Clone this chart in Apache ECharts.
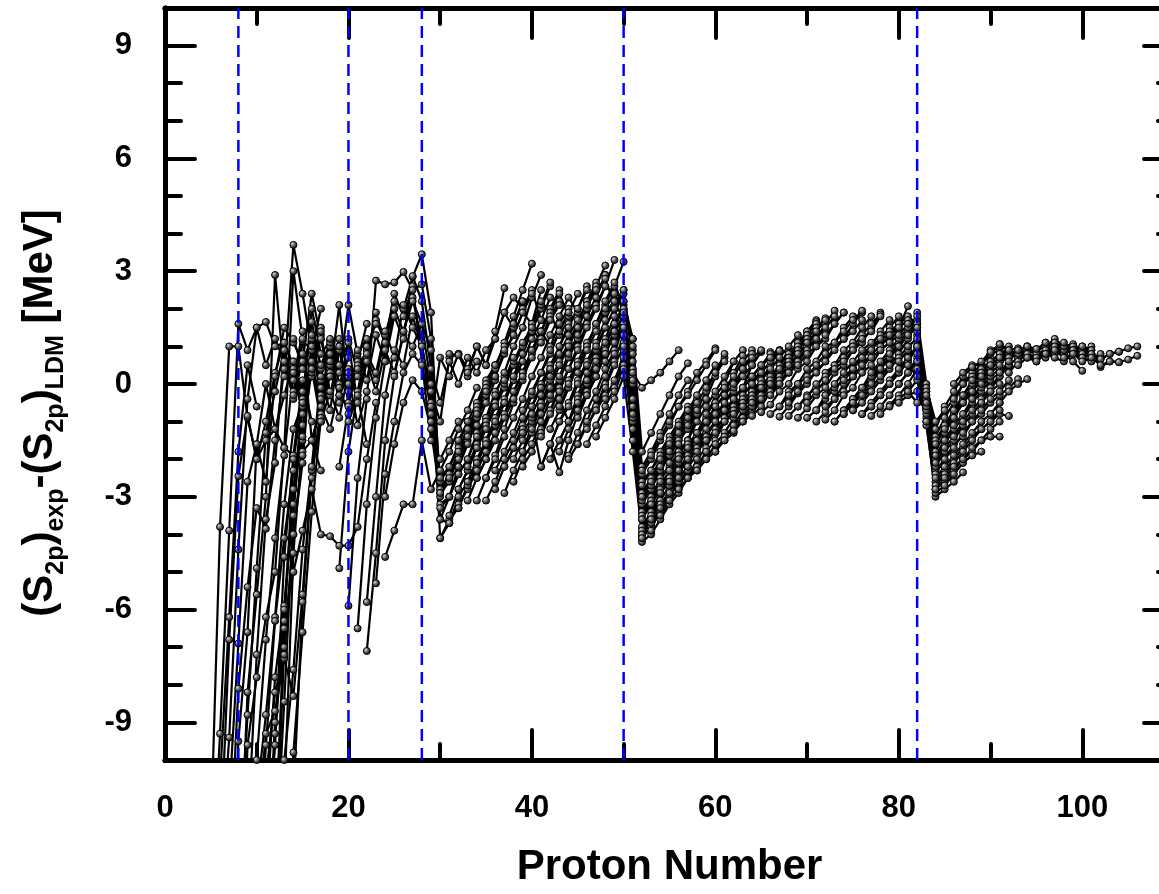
<!DOCTYPE html>
<html>
<head>
<meta charset="utf-8">
<title>S2p residuals vs proton number</title>
<script src="https://cdn.jsdelivr.net/npm/echarts@6/dist/echarts.min.js"></script>
<style>
  html, body { margin: 0; padding: 0; background: #fff; }
  #chart { width: 1159px; height: 894px; }
</style>
</head>
<body>
<div id="chart"></div>
<script>
// each chain: first entry is the proton number of its first point,
// then the residual (MeV) at Z, Z+1, Z+2, ...

// light nuclei, Z 5-25
const lightChains = [
  [5, -12.0, -3.8, 1.0, 1.0, -0.9, -2.0, -1.0, 0.3, 1.1, 0.5, -0.2],
  [5, -14.0, -9.3, -3.9, 1.6, 0.9, 1.5, 0.5, 1.2, 0.6, -0.4, 0.8],
  [6, -13.0, -9.4, -4.4, -0.4, 1.5, 1.65, 1.0, 1.1, 0.4, -0.5, 0.2],
  [6, -12.5, -6.8, -2.45, -0.85, -2.0, -1.5, -1.2, -1.7, -1.9, -1.8, -1.5, -2.3],
  [6, -10.5, -6.2, -1.8, 0.5, -0.6],
  [7, -15.0, -9.5, -6.6, -1.6, -2.6, 0.2, 1.5, 1.1, 0.6, 2.4, 1.2],
  [7, -13.0, -8.1, -5.4, -3.3, -3.85, -1.5, 0.4, -0.2, 1.15, 0.9, 2.0],
  [7, -11.0, -6.9, -2.6, -1.6, 0.0, -1.2, -0.3, 0.6],
  [8, -14.0, -8.2, -5.6, -3.0, 2.9, 0.2, 3.7, 2.4, 0.9, 1.3, -0.3],
  [8, -16.0, -9.6, -7.8, -6.2, -5.0, -1.7, 3.0, 1.2, -1.5, -0.6, 0.4],
  [8, -13.0, -8.8, -4.9, -1.3, -0.2, 0.9, 0.1, 1.4],
  [9, -16.0, -12.0, -9.3, -8.7, -7.3, -8.3, -5.6, -2.3, -1.0, 0.6],
  [9, -17.0, -11.0, -8.8, -6.2, -3.2, -1.2, -0.5, 0.5, -0.4, 1.0],
  [9, -14.5, -10.0, -6.8, -4.1, -1.9, 0.3, -0.8],
  [9, -12.0, -7.2, -3.6, -2.1, 0.9, -0.3, 0.6, 1.2],
  [10, -16.0, -10.5, -8.2, -7.2, -4.0, -1.9, 1.2, 0.1, -0.7, 0.9],
  [10, -14.0, -9.6, -6.3, -4.1, -2.3, -1.5, 0.6, -0.8, 0.3],
  [10, -18.0, -12.5, -9.6, -4.6, -1.9, 0.1, -1.0],
  [10, -15.0, -11.5, -7.8, -5.9, -2.8, -0.6, 0.9, -0.1],
  [11, -15.0, -9.3, -6.3, -5.0, -3.9, -2.8, -4.0, -4.05, -4.3, -4.3, -3.8, -2.0, -0.5],
  [11, -19.0, -13.0, -8.45, -3.5, -0.4, 1.65, 0.4, 1.0],
  [11, -13.5, -9.0, -6.0, -3.2, -1.1, 0.6, 1.5],
  [12, -13.0, -7.0, -4.0, -2.1, 1.0, -0.3, 0.5, 1.2, -0.5, 0.7],
  [12, -12.0, -6.5, -2.0, -0.5, 2.0, 0.8, 1.15, 0.3, 2.1, 0.8, 1.2],
  [12, -17.0, -10.0, -7.6, -4.4, -2.2, 0.2, 1.0, -0.4],
  [13, -11.0, -4.5, -1.4, 0.4, 1.4, -0.3, 0.9, 0.0, 0.6, 1.6],
  [13, -16.0, -11.0, -5.8, -2.5, -0.6, 0.8, -0.5, 1.2, 0.3],
  [13, -14.0, -9.8, -6.6, -3.4, -0.9, 0.5, -0.3, 0.4],
  [14, 0.6, -0.5, 0.3, -0.4, 0.2, 2.1, -0.2, 0.5, 0.8],
  [14, 1.2, 0.4, 1.3, 0.5, 1.1, 0.0, 0.7],
  [15, -0.8, 0.4, -1.0, 0.6, -0.3, 0.2, -1.1, -0.2],
  [16, -1.5, -0.6, -1.2, -0.1, -0.8, -0.3, -1.6],
  [16, 0.4, 1.2, 0.2, 1.0, -0.5, 0.4, 0.9, 1.7, 1.1, 2.0],
  [17, -1.0, -0.2, -0.9, 0.3, -0.4, 0.7, 0.1, 1.3]
];

// chains running over Z = 28
const magic28Chains = [
  [18, 1.2, 0.5, 1.1, -0.5, 0.6, 1.9, 1.1, 2.4, 1.8, 2.6, 0.6, -1.5, -2.0, -1.5, -1.0],
  [19, -4.9, -1.8, -0.2, 1.0, 1.6, 1.3, 2.2, 2.0, 2.85, 3.45, 1.9, -3.2, -3.0, -2.4, -2.0, -1.3, -0.9, -0.2, 0.2],
  [19, -2.2, -0.6, 0.9, 0.1, 1.3, 0.6, 2.0, 1.4, 2.3, 1.1, -0.8, -2.8, -2.4, -1.9, -1.4, -0.9, -0.4],
  [20, -5.9, -2.5, -0.4, 2.75, 2.65, 2.7, 2.98, 2.5, 2.65, 1.2, -3.6, -3.7, -3.0, -2.6, -2.0, -1.5, -1.1, -0.5],
  [20, -1.0, -0.3, 0.6, -0.2, 0.9, 0.3, 1.3, 1.0, 1.6, 0.9, -2.6, -2.2, -1.6, -1.0, -0.5, 0.1, 0.5],
  [21, -6.5, -3.2, -0.9, 0.6, 1.8, 1.2, 2.87, 2.2, 0.4, -4.1, -3.6, -3.3, -2.7, -2.2, -1.8, -1.3],
  [21, 0.2, 0.8, 0.3, 1.4, 0.7, 2.1, 1.5, 1.0, -0.2, -1.0, 0.7, 0.8, 0.2, 0.6],
  [22, -7.1, -4.5, -1.5, 0.2, 1.4, 2.2, 1.6, 0.0, -2.9, -2.6, -2.2, -1.5, -1.1, -0.5, 0.1],
  [22, -5.8, -3.0, -0.3, 0.9, 0.5, 1.8, 1.0, -0.5, -3.3, -3.0, -2.4, -2.0, -1.4, -0.9],
  [23, -5.3, -2.4, -1.0, 0.3, 0.8, 0.5, -0.6, -2.5, -2.2, -1.7, -1.2, -0.6, 0.0, 0.5],
  [24, -3.0, -1.6, -0.5, 0.1, -0.2, -1.2, -3.0, -2.5, -2.0, -1.3, -0.8, -0.2],
  [24, -4.6, -3.9, -3.2, -3.2, -1.5, -2.8, -2.3, -1.8, -1.2, -0.7, -0.1]
];

// Z 29-50
const midChains = [
  [29, -1.0, 0.7, 0.2, 0.8, 0.4, 1.0, 0.5, 1.4, 2.55],
  [29, 0.4, -0.5, 0.6, 0.0, 0.7, 0.3, 0.9, 1.2, 1.9, 1.5, 2.2],
  [30, -3.6, -3.0, -2.2, -1.6, -0.9, -0.3, 0.4, 1.1, 1.8, 2.5, 3.2],
  [30, -4.1, -3.7, -3.2, -2.8, -2.3, -1.8, -1.3, -0.8, -0.2, 0.3, 0.9, 1.4],
  [30, -2.9, -2.4, -1.8, -1.2, -0.7, -0.1, 0.5, 1.0, 1.6, 2.2],
  [31, -3.5, -2.8, -2.3, -1.6, -1.0, -0.3, 0.3, 1.0, 1.5, 2.3, 2.9],
  [31, 0.8, 0.77, 0.3, 1.0, 0.5, 1.2, 1.9, 2.3, 2.0, 2.5, 1.7],
  [31, -2.5, -2.0, -1.4, -0.9, -0.3, 0.2, 0.8, 1.3, 1.9, 2.4],
  [32, -3.3, -2.7, -2.1, -1.5, -0.9, -0.4, 0.2, 0.8, 1.4, 2.0, 2.6],
  [32, -1.5, -1.0, -0.8, -0.2, 0.2, 0.9, 1.3, 1.9, 1.6, 2.5],
  [32, -2.8, -2.3, -1.7, -1.2, -0.6, -0.1, 0.5, 1.0, 1.6, 2.1, 2.7],
  [33, -3.1, -2.5, -2.0, -1.3, -0.8, -0.2, 0.3, 0.9, 1.4, 2.0, 2.5],
  [33, -2.2, -1.6, -1.1, -0.5, 0.0, 0.6, 1.1, 1.5, 2.2, 1.9, 1.3, 1.7],
  [33, -2.6, -2.1, -1.6, -1.0, -0.5, 0.1, 0.6, 1.2, 1.7, 2.3],
  [34, -3.1, -2.5, -1.9, -1.2, -0.5, 0.1, 0.8, 1.4, 1.9, 2.4, 1.8],
  [34, -1.7, -1.2, -0.6, 0.1, 0.7, 0.3, 0.9, 1.4, 1.0, 1.6, 2.0],
  [34, -2.5, -2.0, -1.5, -0.9, -0.4, 0.2, 0.7, 1.2, 1.8, 2.2],
  [35, -3.1, -2.6, -2.0, -1.5, -0.9, -0.3, 0.3, 0.8, 1.4, 1.9],
  [35, -2.5, -2.0, -1.4, -0.9, -0.4, 0.2, 0.7, 1.3, 1.8, 2.3, 1.9],
  [36, -2.8, -2.2, -1.7, -1.1, -0.6, 0.0, 0.5, 1.0, 1.6, 2.0, 2.6],
  [36, -1.0, -0.5, 0.2, 0.8, 1.5, 1.1, 1.7, 2.1],
  [36, -2.3, -1.8, -1.3, -0.7, -0.2, 0.3, 0.9, 1.4, 1.9, 2.4],
  [37, -2.9, -2.3, -1.8, -1.1, -0.6, 0.0, 0.5, 1.1, 1.6, 2.2, 2.6],
  [37, -2.2, -1.7, -1.2, -0.6, -0.1, 0.4, 1.0, 1.5, 2.0, 2.5],
  [38, -2.6, -2.0, -1.6, -1.0, -0.4, 0.1, 0.7, 1.2, 1.8, 2.3, 2.9],
  [38, -2.0, -1.5, -1.0, -0.5, 0.1, 0.6, 1.1, 1.6, 2.2, 2.7],
  [39, -2.2, -1.8, -1.2, -0.7, -0.1, 0.4, 1.0, 1.6, 2.1, 2.6],
  [39, -1.3, -0.9, -2.2, -1.6, -2.35, -1.5, -0.8, -0.2, 0.4, 1.0],
  [39, -1.8, -1.3, -0.8, -0.3, 0.2, 0.8, 1.3, 1.8, 2.3, 2.9],
  [40, -0.8, -0.3, 0.2, -0.4, -1.0, -0.3, 0.3, 0.9, 1.5, 2.0],
  [40, -1.2, -0.6, -0.1, 0.5, 1.0, 1.5, 2.0, 2.6, 3.15],
  [41, -2.2, -1.6, -1.0, -0.5, 0.1, 0.6, 1.1, 1.7, 2.2],
  [41, -1.3, -0.7, -0.2, 0.4, 0.9, 1.5, 2.0, 2.6, 3.3],
  [42, -1.2, -0.7, -0.1, 0.5, 1.0, 1.6, 2.1, 2.6, 3.25],
  [42, -2.0, -1.5, -1.0, -0.5, 0.0, 0.5, 1.0, 1.6, 2.1],
  [43, -1.5, -1.0, -0.4, 0.1, 0.7, 1.2, 1.8, 2.5]
];

// chains running over Z = 50
const magic50Chains = [
  [40, -0.6, -0.1, 0.4, 0.8, 1.3, 1.7, 2.1, 2.5, 2.8, 2.1, 1.8, 0.4, -2.2, -1.8, -1.3, -0.8, -0.3, 0.1],
  [41, -1.4, -0.8, -0.4, 0.1, 0.6, 1.1, 1.5, 1.9, 2.2, 2.4, 0.9, -2.6, -2.3, -1.8, -1.4, -1.0, -0.6],
  [42, -1.6, -1.0, -0.6, 0.0, 0.5, 1.0, 1.5, 2.0, 2.5, 0.6, -3.4, -3.0, -2.5, -2.2, -1.8, -1.5],
  [43, -1.8, -1.2, -0.7, -0.2, 0.4, 0.9, 1.4, 2.2, 1.2, -2.9, -2.5, -2.1, -1.7, -1.2, -0.8, -0.4],
  [43, -0.6, 0.0, 0.5, 1.0, 1.6, 2.2, 2.7, 2.0, 1.0, -2.4, -2.0, -1.5, -1.1, -0.6, -0.2, 0.3, 0.6, 0.95],
  [44, -1.9, -1.3, -0.7, -0.2, 0.4, 0.9, 1.9, 0.0, -4.2, -4.0, -3.6, -3.2, -2.9, -2.5, -2.2, -1.8],
  [44, -1.0, -0.5, 0.1, 0.6, 1.1, 1.6, 1.1, -0.6, -3.2, -2.8, -2.3, -1.9, -1.5, -1.1, -0.7],
  [44, -2.0, -1.6, -1.1, -0.7, -0.3, 0.0, 0.5, -1.0, -4.1, -3.8, -3.4, -3.0, -2.6, -2.3],
  [45, -1.6, -1.0, -0.4, 0.2, 0.8, 1.6, -0.4, -4.0, -3.7, -3.3, -2.8, -2.4, -2.0, -1.7, -1.3],
  [45, 0.3, 0.9, 1.4, 2.0, 2.4, 2.0, 1.2, -1.8, -1.3, -0.8, -0.3, 0.2, 0.55],
  [45, -0.9, -0.3, 0.2, 0.8, 1.3, 1.9, 0.2, -3.0, -2.6, -2.2, -1.8, -1.4, -1.0, -0.6],
  [46, -1.2, -0.6, 0.0, 0.6, 1.3, -1.2, -3.8, -3.4, -2.9, -2.6, -2.1, -1.8, -1.4, -1.0],
  [46, -0.3, 0.2, 0.8, 1.4, 2.2, 0.8, -2.7, -2.3, -1.9, -1.5, -1.1, -0.7],
  [46, -1.6, -1.1, -0.6, -0.1, 0.9, -0.9, -3.5, -3.1, -2.7, -2.3, -1.9, -1.5],
  [47, -0.7, -0.1, 0.5, 1.0, -1.5, -3.9, -3.5, -3.1, -2.7, -2.3, -1.9, -1.6],
  [47, -1.4, -0.9, -0.4, 0.2, -1.8, -4.0, -3.6, -3.2, -2.9, -2.5],
  [48, -0.4, 0.1, 0.7, -0.8, -3.6, -3.2, -2.8, -2.4, -2.0, -1.7, -1.3, -1.0, -0.6],
  [48, 0.6, 1.1, 1.5, 0.1, -3.1, -2.7, -2.3, -1.9, -1.5, -1.2, -0.8],
  [49, -0.2, 0.4, 0.3, -0.1, 0.1, 0.3, 0.6, 0.9]
];

// Z 52-82 band
const bandChains = [
  [52, -4.1, -3.6, -2.9, -2.5, -1.8, -1.5, -0.8, -0.4, 0.2, 0.7],
  [52, -3.6, -3.1, -2.6, -2.1, -1.6, -1.1, -0.7, -0.2, 0.3, 0.8],
  [52, -3.0, -2.5, -2.0, -1.6, -1.1, -0.7, -0.3, 0.1, 0.5],
  [52, -2.3, -1.9, -1.4, -1.0, -0.6, -0.3, 0.1, 0.5, 0.9],
  [53, -3.9, -3.3, -2.9, -2.3, -1.9, -1.3, -0.9, -0.3, 0.0, 0.6],
  [53, -2.6, -2.2, -1.8, -1.3, -0.9, -0.5, -0.1, 0.3, 0.6],
  [53, -3.2, -2.8, -2.3, -1.9, -1.5, -1.0, -0.6, -0.2, 0.2, 0.6, 0.9],
  [54, -3.5, -3.1, -2.5, -2.2, -1.6, -1.2, -0.6, -0.3, 0.3, 0.75],
  [54, -2.9, -2.5, -2.1, -1.6, -1.3, -0.8, -0.5, -0.1, 0.2, 0.6, 0.9],
  [55, -3.1, -2.8, -2.2, -1.9, -1.3, -1.0, -0.5, -0.2, 0.4, 0.8],
  [55, -2.6, -2.3, -1.9, -1.5, -1.2, -0.8, -0.5, -0.1, 0.2, 0.5, 0.85],
  [56, -2.8, -2.5, -2.0, -1.7, -1.2, -0.9, -0.4, -0.1, 0.5, 0.88],
  [56, -2.0, -1.7, -1.3, -1.0, -0.6, -0.3, 0.0, 0.4, 0.7, 0.9],
  [57, -2.5, -2.3, -1.8, -1.5, -1.0, -0.8, -0.3, 0.0, 0.4, 0.85],
  [57, -2.0, -1.7, -1.4, -1.0, -0.7, -0.4, -0.1, 0.2, 0.5, 0.8, 0.9],
  [58, -2.3, -2.0, -1.6, -1.3, -0.9, -0.6, -0.2, 0.1, 0.5, 0.88],
  [58, -1.8, -1.5, -1.2, -0.9, -0.6, -0.3, 0.0, 0.3, 0.6, 0.9],
  [59, -2.0, -1.8, -1.4, -1.1, -0.7, -0.5, -0.1, 0.1, 0.5, 0.9],
  [59, -1.5, -1.3, -1.0, -0.7, -0.4, -0.2, 0.1, 0.4, 0.7, 1.0, 1.3],
  [60, -1.8, -1.5, -1.1, -0.9, -0.5, -0.3, 0.1, 0.3, 0.7, 1.1],
  [60, -1.0, -0.7, -0.4, -0.1, 0.2, 0.5, 0.7, 0.88],
  [61, -1.5, -1.3, -0.9, -0.7, -0.3, -0.1, 0.3, 0.6, 1.0, 1.4],
  [61, -1.0, -0.8, -0.5, -0.3, 0.0, 0.2, 0.5, 0.8, 1.1, 1.4, 1.7],
  [62, -1.25, -1.0, -0.6, -0.4, 0.0, 0.3, 0.7, 0.9, 1.3, 1.65],
  [62, -0.8, -0.6, -0.3, -0.1, 0.2, 0.4, 0.7, 1.0, 1.3, 1.6],
  [63, -1.0, -0.8, -0.4, -0.2, 0.2, 0.4, 0.8, 1.0, 1.4, 1.7],
  [63, -0.6, -0.4, -0.1, 0.1, 0.4, 0.6, 0.9, 1.2, 1.5, 1.75],
  [64, -0.85, -0.6, -0.2, 0.0, 0.4, 0.6, 1.0, 1.2, 1.6, 1.95],
  [64, -0.5, -0.3, 0.0, 0.2, 0.5, 0.8, 1.1, 1.4, 1.7],
  [65, -0.75, -0.55, -0.2, 0.0, 0.4, 0.6, 1.0, 1.2, 1.6, 1.9],
  [65, -0.4, -0.2, 0.1, 0.3, 0.6, 0.9, 1.2, 1.5, 1.8],
  [66, -0.8, -0.6, -0.2, 0.0, 0.4, 0.6, 1.0, 1.1, 1.5, 1.8],
  [66, -0.3, 0.0, 0.3, 0.5, 0.8, 1.0, 1.3, 1.6, 1.9],
  [67, -0.87, -0.6, -0.25, 0.0, 0.35, 0.6, 1.0, 1.2, 1.6, 1.9],
  [67, -0.6, -0.3, 0.0, 0.2, 0.5, 0.8, 1.1, 1.4, 1.7, 1.95],
  [68, -0.85, -0.6, -0.3, -0.1, 0.3, 0.5, 0.9, 1.1, 1.5, 1.8],
  [68, -0.5, -0.2, 0.1, 0.3, 0.6, 0.9, 1.2, 1.4, 1.7],
  [69, -0.9, -0.65, -0.3, -0.1, 0.3, 0.5, 0.9, 1.1, 1.5, 1.9],
  [69, -0.6, -0.35, 0.0, 0.2, 0.5, 0.7, 1.0, 1.3, 1.6, 1.85],
  [70, -0.9, -0.7, -0.3, -0.2, 0.2, 0.4, 0.8, 1.0, 1.4, 1.7],
  [70, -0.5, -0.2, 0.1, 0.4, 0.6, 0.9, 1.2, 1.4, 1.8],
  [71, -1.0, -0.75, -0.4, -0.2, 0.2, 0.4, 0.8, 1.0, 1.3, 1.6],
  [71, -0.7, -0.4, -0.1, 0.1, 0.4, 0.7, 1.0, 1.2, 1.5, 1.8],
  [72, -0.95, -0.7, -0.3, -0.1, 0.3, 0.5, 0.9, 1.1, 1.5, 2.07],
  [72, -0.6, -0.4, 0.0, 0.2, 0.5, 0.8, 1.0, 1.3, 1.6],
  [73, -1.0, -0.7, -0.4, -0.1, 0.2, 0.5, 0.8, 1.1, 1.4, 1.6],
  [74, -0.8, -0.5, -0.2, 0.1, 0.4, 0.7, 1.0, 1.3],
  [75, -0.7, -0.4, -0.1, 0.2, 0.5, 0.8, 1.2, 1.9],
  [75, -0.4, -0.1, 0.2, 0.4, 0.7, 1.0, 1.3, 1.7],
  [76, -0.8, -0.5, -0.2, 0.1, 0.4, 0.7, 1.0],
  [77, -0.6, -0.3, 0.0, 0.3, 0.6, 1.0]
];

// chains running over Z = 82
const magic82Chains = [
  [72, -0.3, 0.0, 0.3, 0.6, 0.9, 1.1, 1.3, 1.4, 1.6, 1.8, 1.6, -0.2, -1.4, -0.9, -0.5, 0.0, 0.3, 0.5, 0.8, 0.9, 0.8, 0.9],
  [73, -1.0, -0.7, -0.4, -0.1, 0.3, 0.6, 0.9, 1.2, 1.5, 1.8, 0.0, -1.2, -0.6, -0.2, 0.2, 0.45, 0.55, 0.8, 1.06, 0.9],
  [74, -0.8, -0.5, -0.3, 0.0, 0.4, 0.7, 1.0, 1.3, 1.5, -0.3, -1.6, -1.2, -0.8, -0.4, -0.1, 0.2, 0.5, 0.7, 1.0],
  [74, 0.1, 0.4, 0.7, 0.9, 1.2, 1.3, 1.5, 1.7, 1.3, -0.1, -1.0, -0.7, -0.4, 0.0, 0.2, 0.45],
  [75, -0.7, -0.5, -0.2, 0.1, 0.4, 0.7, 1.0, 1.2, -0.5, -2.0, -1.6, -1.2, -0.9, -0.5, -0.2, 0.1, 0.3, 0.5],
  [76, -0.8, -0.6, -0.3, 0.0, 0.3, 0.6, 1.0, -0.7, -2.3, -2.0, -1.6, -1.4, -1.0, -0.8, -0.5, -0.3, -0.1, 0.13],
  [76, 0.5, 0.7, 0.9, 1.1, 1.3, 1.6, 1.4, -0.4, -1.8, -1.3, -0.9, -0.5, -0.2, 0.1, 0.4, 0.6, 0.8, 0.7],
  [77, -0.85, -0.6, -0.3, 0.0, 0.3, 0.7, -0.9, -2.6, -2.3, -2.0, -1.7, -1.4, -1.2, -1.0, -0.8, -0.85],
  [78, -0.8, -0.56, -0.3, 0.0, 0.4, -1.1, -2.8, -2.6, -2.3, -2.0, -1.8, -1.5, -1.4, -1.4],
  [78, 0.2, 0.5, 0.6, 0.9, 0.8, -0.6, -2.2, -1.8, -1.5, -1.1, -0.8, -0.5, -0.2, 0.0],
  [79, -0.6, -0.4, -0.2, 0.1, -1.0, -3.0, -2.8, -2.6, -2.35],
  [79, 0.8, 1.0, 1.3, 1.5, -0.2, -1.5, -1.1, -0.7, -0.3, 0.0, 0.3, 0.5, 0.7, 0.8],
  [80, -0.5, -0.3, -0.2, -0.8, -2.9, -2.7, -2.4, -2.1, -1.9, -1.8],
  [80, 0.4, 0.7, 1.0, -0.5, -1.9, -1.5, -1.1, -0.8, -0.4, -0.1, 0.2, 0.4],
  [80, 0.0, 0.3, 0.6, -0.7, -2.4, -2.0, -1.7, -1.3, -1.0, -0.7, -0.4, -0.2, 0.1],
  [81, -0.2, -0.5, -0.6, -2.5, -2.2, -1.9, -1.6, -1.3, -1.0, -0.8, -0.5],
  [81, 0.5, 0.2, -1.0, -2.7, -2.4, -2.1, -1.8, -1.5, -1.2, -1.0, -0.7],
  [81, 1.0, 1.2, -0.4, -2.1, -1.7, -1.4, -1.0, -0.7, -0.4, -0.1, 0.2, 0.5],
  [82, 0.6, -0.3, -1.6, -1.2, -0.9, -0.5, -0.2, 0.1, 0.4, 0.6],
  [83, -0.5, -2.8, -2.5, -2.2, -2.0, -1.7, -1.5, -1.2, -1.0]
];

// Z 86-106
const heavyChains = [
  [86, 0.0, 0.3, 0.5, 0.55, 0.9, 1.0, 0.9, 0.8, 0.9, 0.93, 1.0, 1.2, 1.0, 1.06, 0.9, 1.0],
  [87, -0.3, 0.1, 0.4, 0.6, 0.8, 0.9, 0.7, 0.8, 0.6, 0.8, 1.0, 0.8, 0.9, 0.7, 0.8, 0.66, 0.8, 0.86],
  [88, -0.4, 0.0, 0.3, 0.5, 0.8, 0.9, 0.7, 0.8, 0.7, 0.9, 0.8, 0.6, 0.35],
  [88, 0.45, 0.6, 0.85, 1.06, 0.9, 0.95, 0.8, 0.9, 1.0, 0.85, 0.95, 0.8, 0.9, 0.7, 0.8],
  [88, 0.1, 0.3, 0.6, 0.8, 0.7, 0.9, 1.0, 0.9, 1.1, 0.95, 1.0, 0.9, 1.0, 0.9],
  [89, -0.5, -0.1, 0.2, 0.5, 0.7, 0.8, 0.7, 0.9, 1.1, 0.9, 1.0, 0.8, 0.9, 0.45, 0.6, 0.58, 0.65, 0.75],
  [89, 0.2, 0.5, 0.7, 0.9, 0.8, 1.0, 0.8, 0.9, 0.8, 1.0, 0.9, 0.7, 0.8],
  [90, -0.2, 0.3, 0.6, 0.9, 1.0, 0.93, 1.1, 1.0, 1.1, 0.9, 1.0, 0.8, 0.66, 0.8, 0.86, 0.95, 1.0],
  [90, -0.8, -0.5, -0.2, 0.0, 0.13],
  [92, 0.3, 0.6, 0.8, 0.7, 0.8, 0.7, 0.6, 0.8, 0.7, 0.6],
  [93, 0.5, 0.7, 0.6, 0.8, 0.9, 0.7, 0.8, 0.6, 0.7, 0.5, 0.6, 0.58]
];

const magicNumbers = [8, 20, 28, 50, 82];
const xMajorTicks = [0, 20, 40, 60, 80, 100];
const xMinorTicks = [10, 30, 50, 70, 90];
const yMajorTicks = [-9, -6, -3, 0, 3, 6, 9];
const yMinorTicks = [-8, -7, -5, -4, -2, -1, 1, 2, 4, 5, 7, 8];

const FONT = 'Arial, "Liberation Sans", Helvetica, sans-serif';

const chart = echarts.init(document.getElementById('chart'));

// dark ball marker with a small highlight
const ball = {
  type: 'radial', x: 0.35, y: 0.35, r: 0.8,
  colorStops: [
    { offset: 0, color: '#d8d8d8' },
    { offset: 0.45, color: '#505050' },
    { offset: 1, color: '#000' }
  ]
};

const allChains = [].concat(lightChains, magic28Chains, midChains, magic50Chains,
  bandChains, magic82Chains, heavyChains);

const chainSeries = allChains.map(ch => ({
  type: 'line',
  data: ch.slice(1).map((v, i) => [ch[0] + i, v]),
  symbol: 'circle',
  symbolSize: 7,
  lineStyle: { color: '#000', width: 2.2 },
  itemStyle: { color: ball, borderColor: '#000', borderWidth: 1 },
  silent: true,
  clip: true
}));

// dashed shell-closure lines
const magicSeries = magicNumbers.map(m => ({
  type: 'line',
  data: [[m, -10], [m, 10]],
  showSymbol: false,
  symbol: 'none',
  lineStyle: { color: '#0000ff', width: 2.5, type: [12, 7] },
  silent: true,
  z: 5
}));

const tickLine = { color: '#000', width: 4, cap: 'round' };

function xAx(position, ticks, len, withLabel) {
  return {
    type: 'value', position, min: 0, max: 110,
    axisLine: { show: true, onZero: false, lineStyle: { color: '#000', width: 5 } },
    axisTick: { show: true, inside: true, length: len, customValues: ticks, lineStyle: tickLine },
    axisLabel: withLabel
      ? { show: true, customValues: ticks, margin: 33, color: '#000', fontSize: 31, fontWeight: 'bold', fontFamily: FONT }
      : { show: false },
    splitLine: { show: false }
  };
}

function yAx(position, ticks, len, withLabel) {
  return {
    type: 'value', position, min: -10, max: 10,
    axisLine: { show: true, onZero: false, lineStyle: { color: '#000', width: 5 } },
    axisTick: { show: true, inside: true, length: len, customValues: ticks, lineStyle: tickLine },
    axisLabel: withLabel
      ? { show: true, customValues: ticks, margin: 33, color: '#000', fontSize: 31, fontWeight: 'bold', fontFamily: FONT }
      : { show: false },
    splitLine: { show: false }
  };
}

const xBottom = xAx('bottom', xMajorTicks, 30, true);
xBottom.name = 'Proton Number';
xBottom.nameLocation = 'middle';
xBottom.nameGap = 86;
xBottom.nameTextStyle = { color: '#000', fontSize: 42, fontWeight: 'bold', fontFamily: FONT };

const option = {
  backgroundColor: '#fff',
  animation: false,
  grid: { left: 165, top: 8, width: 1009, height: 752, containLabel: false, outerBoundsMode: 'none' },
  xAxis: [
    xBottom,
    xAx('bottom', xMinorTicks, 16, false),
    xAx('top', xMajorTicks, 30, false),
    xAx('top', xMinorTicks, 16, false)
  ],
  yAxis: [
    yAx('left', yMajorTicks, 30, true),
    yAx('left', yMinorTicks, 16, false),
    yAx('right', yMajorTicks, 30, false),
    yAx('right', yMinorTicks, 16, false)
  ],
  graphic: [{
    type: 'text',
    x: 40,
    y: 413,
    rotation: Math.PI / 2,
    style: {
      text: '{m|(S}{s|2p}{m|)}{s|exp}{m|-(S}{s|2p}{m|)}{s|LDM}{m| [MeV]}',
      align: 'center',
      verticalAlign: 'middle',
      rich: {
        m: { fontSize: 42, fontWeight: 'bold', fontFamily: FONT, fill: '#000', lineHeight: 58, verticalAlign: 'middle' },
        s: { fontSize: 25, fontWeight: 'bold', fontFamily: FONT, fill: '#000', lineHeight: 25, verticalAlign: 'bottom' }
      }
    }
  }],
  series: chainSeries.concat(magicSeries)
};

chart.setOption(option);
</script>
</body>
</html>
